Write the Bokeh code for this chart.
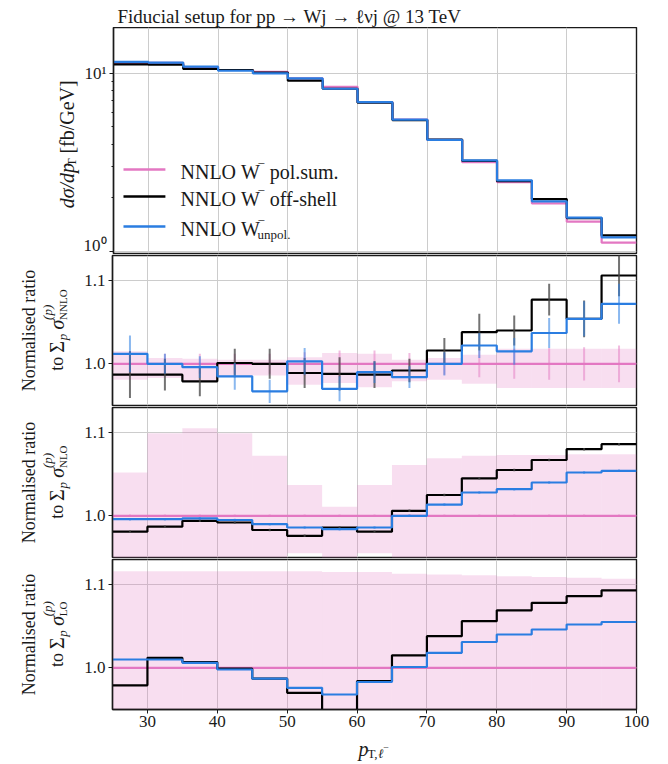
import math

from bokeh.embed import file_html
from bokeh.layouts import column, row
from bokeh.models import FixedTicker, Label, PrintfTickFormatter, Range1d
from bokeh.plotting import figure
from bokeh.resources import INLINE

# ---------------------------------------------------------------- data
# p_T of the charged lepton, bin edges in GeV
bin_edges = [25, 30, 35, 40, 45, 50, 55, 60, 65, 70, 75, 80, 85, 90, 95, 100]
x_ticks = [30, 40, 50, 60, 70, 80, 90, 100]

# NNLO differential cross sections dsigma/dpT [fb/GeV]
xs_polsum = [11.45, 11.45, 10.85, 10.45, 10.2, 9.37, 8.4, 6.9, 5.5, 4.23, 3.17, 2.45, 1.86, 1.47, 1.12]
xs_offshell = [11.25, 11.2, 10.6, 10.45, 10.1, 9.1, 8.2, 6.85, 5.47, 4.25, 3.23, 2.48, 1.97, 1.54, 1.23]
xs_unpol = [11.6, 11.5, 10.9, 10.35, 10.0, 9.37, 8.2, 6.9, 5.5, 4.23, 3.25, 2.51, 1.91, 1.55, 1.20]

# ratios to the polarisation sum at NNLO
nnlo_offshell = [0.987, 0.987, 0.979, 1.001, 1.000, 0.989, 0.988, 0.987, 0.992, 1.016, 1.038, 1.040, 1.077, 1.054, 1.106]
nnlo_unpol = [1.012, 1.000, 0.996, 0.985, 0.967, 1.003, 0.970, 0.990, 0.984, 1.000, 1.022, 1.015, 1.037, 1.054, 1.072]
nnlo_polsum = [1.0] * 15
nnlo_err_offshell = [0.028, 0.019, 0.018, 0.017, 0.018, 0.018, 0.020, 0.016, 0.014, 0.015, 0.022, 0.018, 0.019, 0.022, 0.025]
nnlo_err_unpol = [0.022, 0.012, 0.013, 0.016, 0.014, 0.016, 0.015, 0.013, 0.013, 0.014, 0.015, 0.016, 0.018, 0.021, 0.024]
nnlo_err_polsum = [0.015, 0.012, 0.012, 0.012, 0.012, 0.014, 0.016, 0.016, 0.013, 0.013, 0.016, 0.018, 0.019, 0.020, 0.022]
nnlo_band_hi = [1.015, 1.007, 1.006, 1.005, 1.005, 1.008, 1.013, 1.012, 1.005, 1.007, 1.011, 1.018, 1.018, 1.018, 1.018]
nnlo_band_lo = [0.981, 0.983, 0.979, 0.985, 0.986, 0.975, 0.977, 0.972, 0.979, 0.981, 0.976, 0.971, 0.971, 0.971, 0.971]

# ratios to the polarisation sum at NLO
nlo_offshell = [0.981, 0.987, 0.994, 0.992, 0.983, 0.976, 0.986, 0.981, 1.006, 1.025, 1.045, 1.055, 1.067, 1.080, 1.086]
nlo_unpol = [0.996, 0.996, 0.997, 0.995, 0.990, 0.986, 0.984, 0.986, 1.000, 1.0135, 1.028, 1.032, 1.040, 1.052, 1.054]
nlo_polsum = [1.0] * 15
nlo_err = [0.0015] * 15
nlo_band_hi = [1.052, 1.099, 1.105, 1.099, 1.072, 1.037, 1.011, 1.037, 1.061, 1.069, 1.072, 1.073, 1.073, 1.074, 1.074]
nlo_band_lo = [0.930, 0.900, 0.900, 0.900, 0.920, 0.955, 0.940, 0.955, 0.935, 0.930, 0.930, 0.930, 0.930, 0.930, 0.930]

# ratios to the polarisation sum at LO
lo_offshell = [0.979, 1.012, 1.007, 0.999, 0.987, 0.970, 0.940, 0.984, 1.015, 1.038, 1.056, 1.069, 1.078, 1.086, 1.093]
lo_unpol = [1.010, 1.010, 1.006, 0.998, 0.987, 0.976, 0.968, 0.983, 1.001, 1.018, 1.031, 1.040, 1.046, 1.052, 1.055]
lo_polsum = [1.0] * 15
lo_band_hi = [1.116, 1.116, 1.116, 1.116, 1.116, 1.116, 1.115, 1.115, 1.113, 1.112, 1.111, 1.110, 1.109, 1.108, 1.107]
lo_band_lo = [0.880] * 15

# ---------------------------------------------------------------- style
FONT = "Liberation Serif"
INK = "#1a1a1a"
PINK = "#e377c2"
BLUE = "#2a7de1"
BLACK = "#000000"
GRID = "#cccccc"
NBSP = "\u00a0"

W_TOTAL = 668
W_LAB = 80                # strip holding the rotated axis titles
W_PLOT = W_TOTAL - W_LAB
BORDER_L, BORDER_R = 32, 32

lefts = bin_edges[:-1]
rights = bin_edges[1:]
centers = [(a + b) / 2 for a, b in zip(lefts, rights)]

# approximate advance widths (per 1000 em) used to lay out composite labels
CW = {" ": 250, NBSP: 250, "a": 444, "b": 500, "c": 444, "d": 500, "e": 444, "f": 333, "g": 500,
      "h": 500, "i": 278, "j": 278, "k": 500, "l": 278, "m": 778, "n": 500, "o": 500, "p": 500,
      "r": 333, "s": 389, "t": 278, "u": 500, "v": 500, "N": 722, "L": 611, "O": 722, "T": 611,
      "W": 944, "G": 722, "V": 722, "(": 333, ")": 333, "/": 278, "[": 333, "]": 333, ".": 250,
      ",": 250, "-": 333, "\u2212": 564, "\u03a3": 640, "\u03c3": 560, "\u2113": 420}


def text_width(s, size, style):
    k = 0.9 if style == "italic" else 0.97
    return k * sum(CW.get(c, 500) for c in s) * size / 1000.0


def rich_label(fig, pieces, x, y, vertical=False, align="left"):
    """Place a run of text pieces (text, size, style, baseline shift, advances)."""
    widths = [text_width(t, s, st) if adv else 0.0 for (t, s, st, dy, adv) in pieces]
    pos = -sum(widths) / 2 if align == "center" else 0.0
    for (t, s, st, dy, adv), w in zip(pieces, widths):
        if vertical:
            lx, ly, ang = x - dy, y + pos, math.pi / 2
        else:
            lx, ly, ang = x + pos, y + dy, 0.0
        fig.add_layout(Label(x=lx, y=ly, x_units="screen", y_units="screen", text=t, angle=ang,
                             text_font=FONT, text_font_size=f"{s}px", text_font_style=st,
                             text_color=INK, text_align="left", text_baseline="alphabetic"))
        pos += w


def text_strip(width, height):
    """A bare canvas (no axes, no frame) that only carries text."""
    p = figure(width=width, height=height, x_range=Range1d(0, 1), y_range=Range1d(0, 1),
               x_axis_location=None, y_axis_location=None, output_backend="svg",
               toolbar_location=None, title=None, min_border_left=0, min_border_right=0,
               min_border_top=0, min_border_bottom=0)
    p.outline_line_color = None
    p.xgrid.visible = False
    p.ygrid.visible = False
    p.background_fill_color = "white"
    p.border_fill_color = "white"
    return p


def make_panel(height, y_range, top, bottom, log=False, x_axis=False):
    p = figure(width=W_PLOT, height=height, x_range=Range1d(25, 100), y_range=y_range,
               y_axis_type="log" if log else "linear",
               x_axis_location="below" if x_axis else None,
               output_backend="svg", toolbar_location=None, title=None,
               min_border_left=BORDER_L, min_border_right=BORDER_R,
               min_border_top=top, min_border_bottom=bottom)
    p.background_fill_color = "white"
    p.border_fill_color = "white"
    p.outline_line_color = INK
    p.outline_line_width = 1.4
    p.xgrid.ticker = FixedTicker(ticks=x_ticks)
    p.xgrid.grid_line_color = GRID
    p.ygrid.grid_line_color = GRID
    for ax in p.yaxis:
        ax.axis_line_color = INK
        ax.axis_line_width = 1.4
        ax.major_tick_line_color = INK
        ax.minor_tick_line_color = INK
        ax.major_tick_in = 0
        ax.major_tick_out = 4
        ax.minor_tick_in = 0
        ax.minor_tick_out = 2
        ax.major_label_text_font = FONT
        ax.major_label_text_font_size = "17px"
        ax.major_label_text_color = INK
        ax.major_label_standoff = 3
    return p


def steps(p, vals, color, width=2.2):
    p.step(x=bin_edges, y=list(vals) + [vals[-1]], mode="after", line_color=color, line_width=width)


def errbars(p, vals, errs, color, alpha, width=2.0):
    p.segment(x0=centers, y0=[v - e for v, e in zip(vals, errs)],
              x1=centers, y1=[v + e for v, e in zip(vals, errs)],
              line_color=color, line_alpha=alpha, line_width=width)


def band(p, lo, hi):
    p.quad(left=lefts, right=rights, bottom=lo, top=hi, fill_color=PINK, fill_alpha=0.24, line_color=None)


# ---------------------------------------------------------------- title
title_strip = text_strip(W_TOTAL, 27)
title_strip.add_layout(Label(x=117, y=11, x_units="screen", y_units="screen",
                             text="Fiducial setup for pp \u2192 Wj \u2192 \u2113\u03bdj @ 13 TeV",
                             text_font=FONT, text_font_size="19px", text_color=INK,
                             text_align="left", text_baseline="alphabetic"))

# ---------------------------------------------------------------- main panel
Y_LO, Y_HI = 0.974, 18.1
H0 = 226
top = make_panel(227, Range1d(Y_LO, Y_HI), 0, 1, log=True)
top.yaxis.ticker = FixedTicker(ticks=[1, 10], minor_ticks=[2, 3, 4, 5, 6, 7, 8, 9])
top.yaxis.major_label_overrides = {1: "10\u2070", 10: "10\u00b9"}
top.ygrid.ticker = FixedTicker(ticks=[1, 10])

steps(top, xs_polsum, PINK)
steps(top, xs_offshell, BLACK)
steps(top, xs_unpol, BLUE)


def frac_to_x(f):
    return 25 + f * 75


def rel_to_logy(ry):
    return 10 ** (math.log10(Y_LO) + ry / H0 * (math.log10(Y_HI) - math.log10(Y_LO)))


# legend
legend_rows = [(84, PINK, [(NBSP + "pol.sum.", 20, "normal", 0, True)], False),
               (57, BLACK, [(NBSP + "off-shell", 20, "normal", 0, True)], False),
               (27, BLUE, [("unpol.", 13, "normal", -6, True)], True)]
for ry, color, tail, stacked in legend_rows:
    yv = rel_to_logy(ry)
    top.line(x=[frac_to_x(10 / 524), frac_to_x(52 / 524)], y=[yv, yv], line_color=color, line_width=2.6)
    pieces = [("NNLO" + NBSP + "W", 20, "normal", 0, True), ("\u2212", 13, "normal", 8, not stacked)] + tail
    rich_label(top, pieces, 67, ry - 2)

lab0 = text_strip(W_LAB, 227)
rich_label(lab0, [("d\u03c3/dp", 20, "italic", 0, True), ("T", 13, "normal", -5, True),
                  (NBSP + "[fb/GeV]", 20, "normal", 0, True)], 66, 108, vertical=True, align="center")

# ---------------------------------------------------------------- ratio panels
R_LO, R_HI = 0.95, 1.13
R_FRAME = 150


def ratio_panel(height, top_b, bottom_b, x_axis=False):
    p = make_panel(height, Range1d(R_LO, R_HI), top_b, bottom_b, x_axis=x_axis)
    p.yaxis.ticker = FixedTicker(ticks=[1.0, 1.1])
    p.yaxis.formatter = PrintfTickFormatter(format="%.1f")
    p.ygrid.ticker = FixedTicker(ticks=[1.0, 1.1])
    return p


def ratio_title(height, order):
    # the strip's frame is aligned with the panel frame next to it
    s = text_strip(W_LAB, height)
    centre = R_FRAME / 2
    s.add_layout(Label(x=28, y=centre, x_units="screen", y_units="screen", angle=math.pi / 2,
                       text="Normalised ratio", text_font=FONT, text_font_size="18px",
                       text_color=INK, text_align="center", text_baseline="alphabetic"))
    rich_label(s, [("to" + NBSP, 18, "normal", 0, True), ("\u03a3", 20, "normal", 0, True),
                   ("p", 13, "italic", -6, True), (NBSP + "\u03c3", 20, "italic", 0, True),
                   ("(p)", 13, "italic", 9, False), (order, 11, "normal", -6, True)],
               56, centre, vertical=True, align="center")
    return s


r1 = ratio_panel(152, 1, 1)
band(r1, nnlo_band_lo, nnlo_band_hi)
steps(r1, nnlo_polsum, PINK)
errbars(r1, nnlo_polsum, nnlo_err_polsum, PINK, 0.5)
steps(r1, nnlo_offshell, BLACK)
errbars(r1, nnlo_offshell, nnlo_err_offshell, "#444444", 0.75)
steps(r1, nnlo_unpol, BLUE)
errbars(r1, nnlo_unpol, nnlo_err_unpol, BLUE, 0.55)
lab1 = ratio_title(152, "NNLO")

r2 = ratio_panel(152, 1, 1)
band(r2, nlo_band_lo, nlo_band_hi)
steps(r2, nlo_polsum, PINK)
errbars(r2, nlo_polsum, nlo_err, PINK, 0.5)
steps(r2, nlo_offshell, BLACK)
errbars(r2, nlo_offshell, nlo_err, "#444444", 0.75)
steps(r2, nlo_unpol, BLUE)
errbars(r2, nlo_unpol, nlo_err, BLUE, 0.55)
lab2 = ratio_title(152, "NLO")

R3_BOTTOM = 25
r3 = ratio_panel(151 + R3_BOTTOM, 1, R3_BOTTOM, x_axis=True)
band(r3, lo_band_lo, lo_band_hi)
steps(r3, lo_polsum, PINK)
steps(r3, lo_offshell, BLACK)
steps(r3, lo_unpol, BLUE)
lab3 = ratio_title(151 + R3_BOTTOM, "LO")

xa = r3.xaxis[0]
xa.ticker = FixedTicker(ticks=x_ticks)
xa.axis_line_color = INK
xa.axis_line_width = 1.4
xa.major_tick_line_color = INK
xa.major_tick_in = 0
xa.major_tick_out = 4
xa.minor_tick_line_color = None
xa.major_label_text_font = FONT
xa.major_label_text_font_size = "17px"
xa.major_label_text_color = INK
xa.major_label_standoff = 2

# x axis title
XLAB_H = 764 - (27 + 227 + 152 + 152 + 151 + R3_BOTTOM)
xlab = text_strip(W_TOTAL, XLAB_H)
rich_label(xlab, [("p", 20, "italic", 0, True), ("T,", 13, "normal", -5, True),
                  ("\u2113", 13, "italic", -5, True), ("\u2212", 10, "normal", 1, True)],
           373, 16, align="center")

layout = column(title_strip, row(lab0, top), row(lab1, r1), row(lab2, r2), row(lab3, r3), xlab)
open("out.html", "w").write(file_html(layout, INLINE))
